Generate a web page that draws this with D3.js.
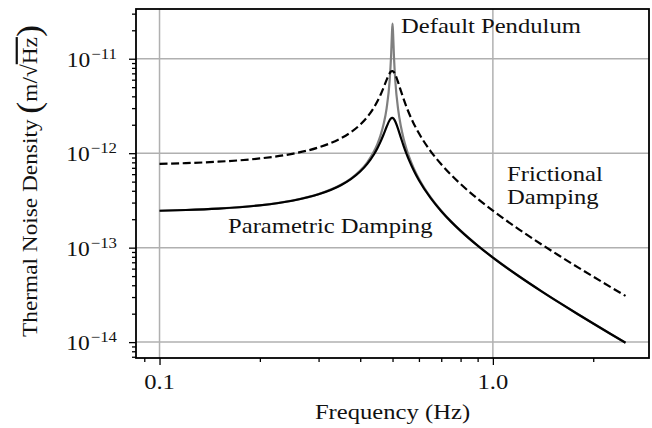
<!DOCTYPE html>
<html>
<head>
<meta charset="utf-8">
<script src="https://cdn.jsdelivr.net/npm/d3@7"></script>
<style>
  body { margin: 0; background: #fff; }
  svg text { font-family: "Liberation Serif", "DejaVu Serif", serif; fill: #111; }
</style>
</head>
<body>
<div id="chart"></div>
<script>
// frequencies (Hz) the curves were read at
const freq = [0.1, 0.12, 0.15, 0.2, 0.25, 0.3, 0.35, 0.375, 0.4, 0.42, 0.44, 0.45, 0.46, 0.47, 0.48,
  0.49, 0.495, 0.498, 0.5, 0.502, 0.505, 0.51, 0.52, 0.53, 0.54, 0.55, 0.56, 0.58, 0.6, 0.65, 0.7,
  0.75, 0.8, 0.9, 1.0, 1.2, 1.4, 1.6, 1.8, 2.0, 2.25, 2.5];

// solid black
const parametric = [2.458e-13, 2.503e-13, 2.592e-13, 2.806e-13, 3.14e-13, 3.671e-13, 4.584e-13,
  5.317e-13, 6.399e-13, 7.709e-13, 9.746e-13, 1.1225e-12, 1.318e-12, 1.577e-12, 1.904e-12,
  2.233e-12, 2.337e-12, 2.362e-12, 2.36e-12, 2.343e-12, 2.292e-12, 2.151e-12, 1.785e-12,
  1.449e-12, 1.19e-12, 9.955e-13, 8.49e-13, 6.474e-13, 5.175e-13, 3.361e-13, 2.433e-13,
  1.8745e-13, 1.505e-13, 1.05e-13, 7.849e-14, 4.952e-14, 3.447e-14, 2.553e-14, 1.972e-14,
  1.573e-14, 1.226e-14, 9.831e-15];

// dashed black
const frictional = [7.707e-13, 7.85e-13, 8.128e-13, 8.799e-13, 9.845e-13, 1.151e-12, 1.437e-12,
  1.667e-12, 2.007e-12, 2.417e-12, 3.056e-12, 3.52e-12, 4.133e-12, 4.946e-12, 5.97e-12,
  7.001e-12, 7.328e-12, 7.406e-12, 7.4e-12, 7.347e-12, 7.186e-12, 6.745e-12, 5.598e-12,
  4.545e-12, 3.73e-12, 3.122e-12, 2.662e-12, 2.03e-12, 1.623e-12, 1.054e-12, 7.628e-13,
  5.878e-13, 4.719e-13, 3.293e-13, 2.461e-13, 1.553e-13, 1.081e-13, 8.004e-14, 6.185e-14,
  4.932e-14, 3.843e-14, 3.083e-14];

// grey
const defaultPendulum = [2.458e-13, 2.504e-13, 2.593e-13, 2.81e-13, 3.147e-13, 3.688e-13, 4.627e-13,
  5.394e-13, 6.554e-13, 8.013e-13, 1.0453e-12, 1.2407e-12, 1.534e-12, 2.021e-12, 2.988e-12,
  5.785e-12, 1.0618e-11, 1.849e-11, 2.36e-11, 1.837e-11, 1.0491e-11, 5.664e-12, 2.869e-12,
  1.902e-12, 1.415e-12, 1.1223e-12, 9.268e-13, 6.825e-13, 5.362e-13, 3.42e-13, 2.458e-13,
  1.8878e-13, 1.513e-13, 1.0535e-13, 7.866e-14, 4.958e-14, 3.45e-14, 2.554e-14, 1.973e-14,
  1.573e-14, 1.226e-14, 9.833e-15];

const xMajor = [0.1, 1.0];
const xMajorLabels = ["0.1", "1.0"];
const xMinor = [0.09, 0.2, 0.3, 0.4, 0.5, 0.6, 0.7, 0.8, 0.9, 2.0];
const yExps = [-11, -12, -13, -14];

const W = 652, H = 428;
const L = 136, R = 649, T = 9, B = 358;
const SX = 1.12; // widen Liberation Serif towards Computer Modern proportions

const svg = d3.select("#chart").append("svg").attr("width", W).attr("height", H);

const x = d3.scaleLog().domain([0.085, 2.94]).range([L, R]);
const y = d3.scaleLog().domain([6.79e-15, 3.36e-11]).range([B, T]);

const yMajor = yExps.map(e => Math.pow(10, e));
const yMinor = [];
[-15, -14, -13, -12, -11].forEach(e => {
  for (let k = 2; k <= 9; k++) {
    const v = k * Math.pow(10, e);
    if (v > y.domain()[0] && v < y.domain()[1]) yMinor.push(v);
  }
});

const label = (px, py, txt, anchor = "start", size = 22) =>
  svg.append("text").attr("transform", `translate(${px},${py}) scale(${SX},1)`)
    .attr("text-anchor", anchor).attr("font-size", size).text(txt);

// grid
const grid = svg.append("g").attr("stroke", "#b0b0b0").attr("stroke-width", 1.5);
grid.selectAll(".gx").data(xMajor).join("line")
  .attr("x1", d => x(d)).attr("x2", d => x(d)).attr("y1", T).attr("y2", B);
grid.selectAll(".gy").data(yMajor).join("line")
  .attr("x1", L).attr("x2", R).attr("y1", d => y(d)).attr("y2", d => y(d));

// curves
const line = vals => d3.line().curve(d3.curveMonotoneX)
  .x((d, i) => x(freq[i])).y(d => y(d))(vals);
const plot = svg.append("g").attr("fill", "none").attr("stroke-linejoin", "round");
plot.append("path").attr("d", line(defaultPendulum)).attr("stroke", "#7f7f7f").attr("stroke-width", 2.2);
plot.append("path").attr("d", line(frictional)).attr("stroke", "#000").attr("stroke-width", 2.2)
  .attr("stroke-dasharray", "8,3.6");
plot.append("path").attr("d", line(parametric)).attr("stroke", "#000").attr("stroke-width", 2.2);

// axes
const xAxis = svg.append("g").attr("transform", `translate(0,${B})`);
xAxis.call(d3.axisBottom(x).tickValues(xMajor).tickSize(7).tickFormat(""));
const xAxisMinor = svg.append("g").attr("transform", `translate(0,${B})`);
xAxisMinor.call(d3.axisBottom(x).tickValues(xMinor).tickSize(4).tickFormat(""));

const yAxis = svg.append("g").attr("transform", `translate(${L},0)`);
yAxis.call(d3.axisLeft(y).tickValues(yMajor).tickSize(7).tickFormat(""));
const yAxisMinor = svg.append("g").attr("transform", `translate(${L},0)`);
yAxisMinor.call(d3.axisLeft(y).tickValues(yMinor).tickSize(4).tickFormat(""));

svg.selectAll(".domain").remove();
svg.selectAll(".tick line").attr("stroke", "#000").attr("stroke-width", 1.3);

xMajor.forEach((v, i) => label(x(v), B + 31, xMajorLabels[i], "middle"));

// y tick labels as powers of ten
yExps.forEach(e => {
  const t = svg.append("text")
    .attr("transform", `translate(${L - 19},${y(Math.pow(10, e)) + 8}) scale(${SX},1)`)
    .attr("text-anchor", "end").attr("font-size", 21);
  t.append("tspan").text("10");
  t.append("tspan").attr("dy", -8).attr("dx", 1).attr("font-size", 15).text("\u2212" + Math.abs(e));
});

// frame
svg.append("rect").attr("x", L).attr("y", T).attr("width", R - L).attr("height", B - T)
  .attr("fill", "none").attr("stroke", "#000").attr("stroke-width", 1.8);

// annotations
label(401, 33, "Default Pendulum");
label(507, 181, "Frictional");
label(507, 204, "Damping");
label(228, 233, "Parametric Damping");

// axis titles
label((L + R) / 2, 419, "Frequency (Hz)", "middle");

const yt = svg.append("text").attr("transform", `translate(37,181) rotate(-90) scale(1.06,1)`)
  .attr("text-anchor", "middle").attr("font-size", 22);
yt.append("tspan").text("Thermal Noise Density ");
yt.append("tspan").attr("font-size", 34).attr("dy", 3).text("(");
yt.append("tspan").attr("font-size", 22).attr("dy", -3).text("m/\u221A");
yt.append("tspan").style("text-decoration", "overline").text("Hz");
yt.append("tspan").attr("font-size", 34).attr("dy", 3).text(")");
</script>
</body>
</html>
